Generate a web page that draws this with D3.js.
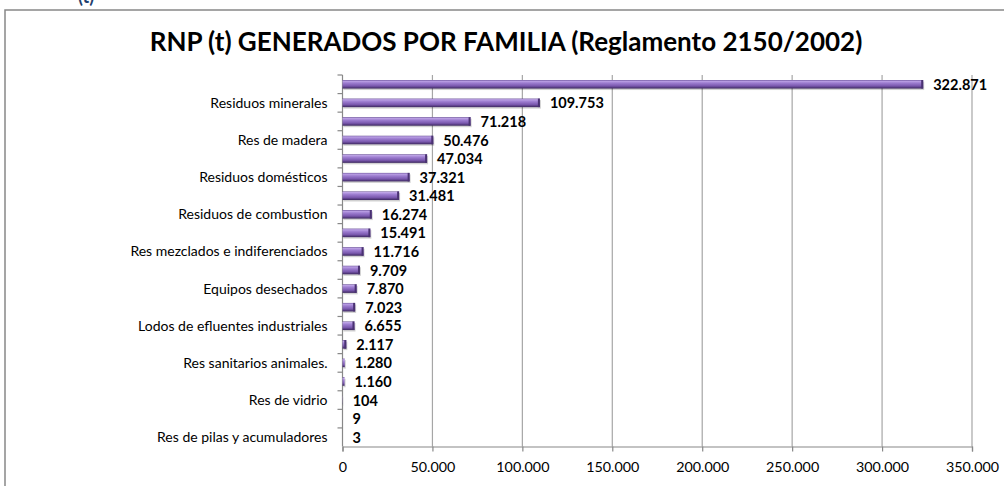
<!DOCTYPE html>
<html>
<head>
<meta charset="utf-8">
<script src="https://cdn.jsdelivr.net/npm/d3@7"></script>
<style>
  html, body { margin: 0; padding: 0; background: #fff; }
  svg { display: block; }
</style>
</head>
<body>
<div id="chart"></div>
<script>
// categories top to bottom; Excel only prints every other one
const categories = [
  'Res de clasificación', 'Residuos minerales', 'Res metálicos', 'Res de madera',
  'Res de papel y cartón', 'Residuos domésticos', 'Lodos comunes', 'Residuos de combustion',
  'Res químicos', 'Res mezclados e indiferenciados', 'Res de plástico', 'Equipos desechados',
  'Res animales y vegetales', 'Lodos de efluentes industriales', 'Res textiles', 'Res sanitarios animales.',
  'Res de caucho', 'Res de vidrio', 'Vehículos desechados', 'Res de pilas y acumuladores'
];
const values = [
  322871, 109753, 71218, 50476, 47034, 37321, 31481, 16274, 15491, 11716,
  9709, 7870, 7023, 6655, 2117, 1280, 1160, 104, 9, 3
];
const xTicks = [0, 50000, 100000, 150000, 200000, 250000, 300000, 350000];
const title = 'RNP (t) GENERADOS POR FAMILIA (Reglamento 2150/2002)';

const width = 1004, height = 486;
const margin = { top: 75, left: 342.5, right: 32, bottom: 39.5 };
const font = 'Lato, "Open Sans", sans-serif';

const data = categories.map((c, i) => ({ name: c, value: values[i] }));

// es-ES style thousands with a dot
const fmt = d3.formatLocale({ decimal: ',', thousands: '.', grouping: [3], currency: ['', ' €'] }).format(',d');

const svg = d3.select('#chart').append('svg')
  .attr('width', width)
  .attr('height', height)
  .style('font-family', font);

const defs = svg.append('defs');
const grad = defs.append('linearGradient')
  .attr('id', 'barGrad')
  .attr('x1', 0).attr('y1', 0).attr('x2', 0).attr('y2', 1);
[['0%', '#5f4490'], ['12%', '#bda3e6'], ['35%', '#9d7dd0'], ['70%', '#7a58ae'], ['100%', '#3c275f']]
  .forEach(([o, c]) => grad.append('stop').attr('offset', o).attr('stop-color', c));

// bit of the page heading cut off above the chart frame
svg.append('text')
  .attr('x', 78).attr('y', 3)
  .attr('font-size', 18).attr('font-weight', 'bold')
  .attr('fill', '#1f3f6e')
  .text('(t)');

// chart frame, runs off the right and bottom edges
svg.append('rect')
  .attr('x', 5).attr('y', 10)
  .attr('width', 1100).attr('height', 600)
  .attr('fill', '#fff')
  .attr('stroke', '#888').attr('stroke-width', 1.5);

svg.append('text')
  .attr('x', 506).attr('y', 51)
  .attr('text-anchor', 'middle')
  .attr('font-size', 26).attr('font-weight', 'bold')
  .attr('fill', '#000')
  .text(title);

const x = d3.scaleLinear()
  .domain([0, 350000])
  .range([margin.left, width - margin.right]);

const y = d3.scaleBand()
  .domain(categories)
  .range([margin.top, height - margin.bottom])
  .paddingInner(0.54)
  .paddingOuter(0.27);

const plotBottom = height - margin.bottom;

// vertical gridlines
svg.append('g')
  .selectAll('line')
  .data(xTicks.slice(1))
  .join('line')
    .attr('x1', d => x(d)).attr('x2', d => x(d))
    .attr('y1', margin.top).attr('y2', plotBottom)
    .attr('stroke', '#a6a6a6').attr('stroke-width', 1.2);

// x axis
const xAxis = svg.append('g')
  .attr('transform', `translate(0,${plotBottom})`)
  .call(d3.axisBottom(x).tickValues(xTicks).tickFormat(fmt).tickSizeOuter(0).tickSize(5).tickPadding(10));
xAxis.select('.domain').attr('stroke', '#888').attr('stroke-width', 1.2);
xAxis.selectAll('.tick line').attr('stroke', '#888').attr('stroke-width', 1.2);
xAxis.selectAll('.tick text')
  .attr('font-family', font).attr('font-size', 14.3).attr('fill', '#000');

// y axis: ticks sit between categories
const step = y.step();
const yAxis = svg.append('g');
yAxis.append('line')
  .attr('x1', margin.left).attr('x2', margin.left)
  .attr('y1', margin.top).attr('y2', plotBottom)
  .attr('stroke', '#888').attr('stroke-width', 1.2);
yAxis.selectAll('.ytick')
  .data(d3.range(categories.length))
  .join('line')
    .attr('class', 'ytick')
    .attr('x1', margin.left - 5).attr('x2', margin.left)
    .attr('y1', i => margin.top + i * step).attr('y2', i => margin.top + i * step)
    .attr('stroke', '#888').attr('stroke-width', 1.2);
yAxis.selectAll('.ylabel')
  .data(data.filter((d, i) => i % 2 === 1))
  .join('text')
    .attr('class', 'ylabel')
    .attr('x', margin.left - 15)
    .attr('y', d => y(d.name) + y.bandwidth() / 2)
    .attr('dy', '0.35em')
    .attr('text-anchor', 'end')
    .attr('font-size', 14)
    .attr('fill', '#000')
    .text(d => d.name);

// bars: soft shadow, gradient body, darker end cap
const bars = svg.append('g');
const bar = bars.selectAll('g')
  .data(data)
  .join('g');
bar.append('rect')
    .attr('x', x(0) + 1)
    .attr('y', d => y(d.name) + 1.5)
    .attr('width', d => Math.max(0, x(d.value) - x(0)))
    .attr('height', y.bandwidth())
    .attr('fill', '#000').attr('opacity', 0.18);
bar.append('rect')
    .attr('x', x(0))
    .attr('y', d => y(d.name))
    .attr('width', d => Math.max(0, x(d.value) - x(0)))
    .attr('height', y.bandwidth())
    .attr('fill', 'url(#barGrad)');
bar.filter(d => x(d.value) - x(0) > 3)
  .append('rect')
    .attr('x', d => x(d.value) - 2)
    .attr('y', d => y(d.name))
    .attr('width', 2)
    .attr('height', y.bandwidth())
    .attr('fill', '#4a3272');

// value labels
svg.append('g')
  .selectAll('text')
  .data(data)
  .join('text')
    .attr('x', d => x(d.value) + 10)
    .attr('y', d => y(d.name) + y.bandwidth() / 2)
    .attr('dy', '0.38em')
    .attr('font-size', 14.5)
    .attr('font-weight', 'bold')
    .attr('fill', '#000')
    .text(d => fmt(d.value));
</script>
</body>
</html>
